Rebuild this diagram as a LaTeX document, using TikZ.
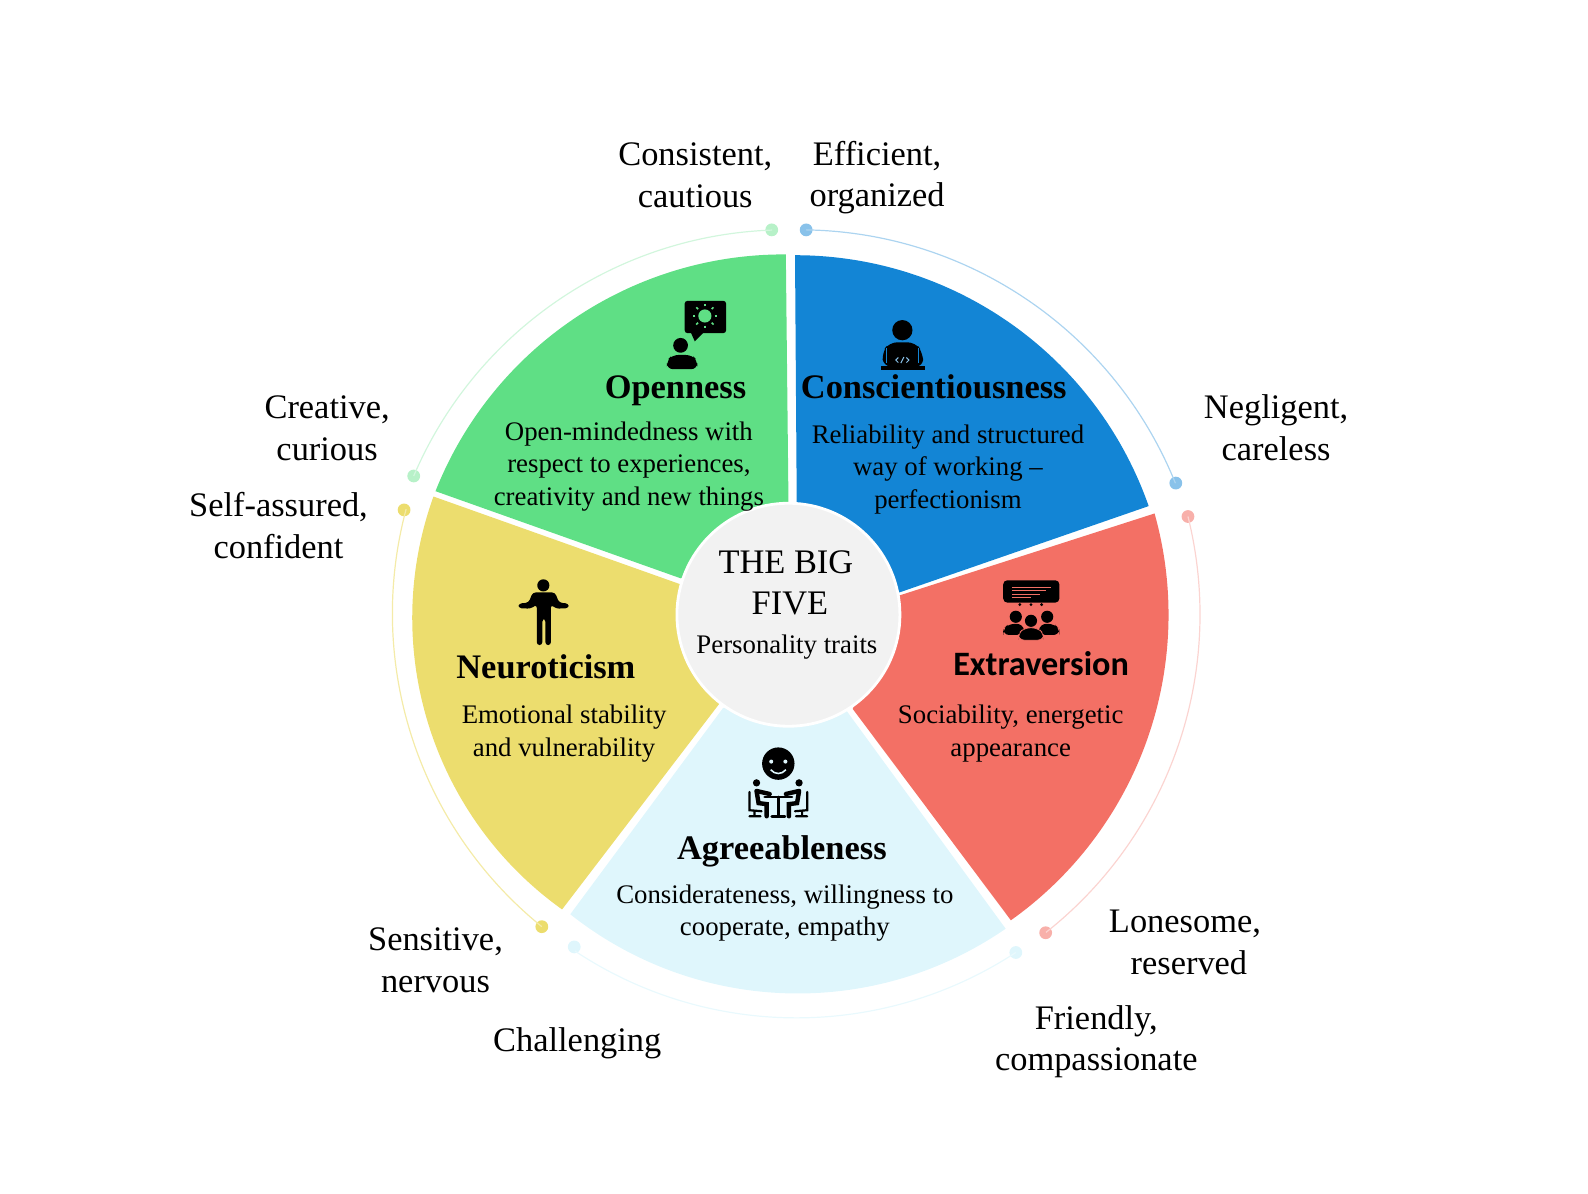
\documentclass[tikz,border=0pt]{standalone}
\usepackage{fontspec}
\setmainfont{Liberation Serif}
\newfontfamily\calfont{Carlito}
\definecolor{cgreen}{HTML}{5FDF85}
\definecolor{cblue}{HTML}{1385D5}
\definecolor{cred}{HTML}{F37065}
\definecolor{clight}{HTML}{DFF6FC}
\definecolor{cyellow}{HTML}{ECDD6E}
\definecolor{ccentre}{HTML}{F2F2F2}
\tikzset{
  lab/.style={align=center,font=\fontsize{17.2}{20.8}\selectfont,inner sep=0pt},
  bodytxt/.style={align=center,font=\fontsize{13.4}{16.2}\selectfont,inner sep=0pt},
  ttl/.style={font=\fontsize{17.2}{20}\selectfont\bfseries,inner sep=0pt},
  wedge/.style={draw=none},
  dot/.style={circle,minimum size=6.4pt,inner sep=0pt,fill=#1},
  guide/.style={line width=.6pt,draw=#1},
  ink/.style={fill=black,draw=none},
  stroke/.style={draw=black,line width=#1,line cap=round}
}
\begin{document}
\begin{tikzpicture}[x=0.5064pt,y=-0.5064pt]
\useasboundingbox (0,0) rectangle (1568,1178);
% wedges
\fill[cgreen,wedge] (430,485) arc[start angle=201.6,end angle=270.3,radius=370] -- (779,540) -- (672,571) -- cycle;
\fill[cblue,wedge] (785,252) arc[start angle=270,end angle=340.7,radius=370] -- (888,585) -- (787,540) -- cycle;
\fill[cred,wedge] (1140,507) arc[start angle=-15.7,end angle=54.6,radius=370] -- (842,700) -- (888,588) -- cycle;
\fill[clight,wedge] (993,917) arc[start angle=55.4,end angle=128.4,radius=361.6] -- (714,699) -- (836,702) -- cycle;
\fill[cyellow,wedge] (555,898) arc[start angle=125.6,end angle=199.8,radius=354] -- (672,577) -- (714,690) -- cycle;
% guide arcs with dots
\node[dot=cgreen!45!white] (dga) at (408.5,470) {};
\node[dot=cgreen!45!white] (dgb) at (762,227) {};
\node[dot=cblue!50!white] (dba) at (796,227) {};
\node[dot=cblue!50!white] (dbb) at (1161,477) {};
\node[dot=cred!55!white] (dra) at (1173,510) {};
\node[dot=cred!55!white] (drb) at (1032.5,921) {};
\node[dot=clight] (dla) at (1003,940.5) {};
\node[dot=clight] (dlb) at (567,935) {};
\node[dot=cyellow] (dya) at (535,915) {};
\node[dot=cyellow] (dyb) at (399,503.5) {};
\draw[guide=cgreen!28!white] (dga.center) arc[start angle=203.1,end angle=268,radius=400];
\draw[guide=cblue!35!white] (dba.center) arc[start angle=270.9,end angle=338,radius=400];
\draw[guide=cred!30!white] (dra.center) arc[start angle=-14,end angle=51.7,radius=400];
\draw[guide=clight!70!white] (dla.center) arc[start angle=56.8,end angle=123.6,radius=395.5];
\draw[guide=cyellow!60!white] (dya.center) arc[start angle=129,end angle=195,radius=398];
% centre
\node[circle,fill=ccentre,draw=white,line width=1.4pt,minimum size=111.5pt,inner sep=0pt] (hub) at (778.5,607) {};
\node[font=\fontsize{17.2}{20.8}\selectfont,inner sep=0pt] (t1) at (776,555) {THE BIG};
\node[font=\fontsize{17.2}{20.8}\selectfont,inner sep=0pt] (t2) at (780,596) {FIVE};
\node[bodytxt] (t3) at (777,639) {Personality traits};
% headings
\node[ttl] (nO) at (667,386) {Openness};
\node[ttl] (nC) at (922,382) {Conscientiousness};
\node[ttl] (nN) at (539,658) {Neuroticism};
\node[inner sep=0pt,font=\calfont\fontsize{17.1}{20}\selectfont\bfseries] (nE) at (1028,655) {Extraversion};
\node[ttl] (nA) at (772,841) {Agreeableness};
% bodies
\node[bodytxt] (bO) at (621,460.5) {Open-mindedness with\\respect to experiences,\\creativity and new things};
\node[bodytxt] (bC) at (936,463.5) {Reliability and structured\\way of working --\\perfectionism};
\node[bodytxt] (bN) at (557,724.5) {Emotional stability\\and vulnerability};
\node[bodytxt] (bE) at (998,724.5) {Sociability, energetic\\appearance};
\node[bodytxt] (bA) at (775,901.5) {Considerateness, willingness to\\cooperate, empathy};
% outer labels
\node[lab] (l1) at (686.5,173) {Consistent,\\cautious};
\node[lab] (l2) at (866,175.5) {Efficient,\\organized};
\node[lab] (l3) at (323,423) {Creative,\\curious};
\node[lab] (l4) at (275,519) {Self-assured,\\confident};
\node[lab] (l5) at (1260,422.5) {Negligent,\\careless};
\node[lab] (l6) at (430,948) {Sensitive,\\nervous};
\node[lab] (l7) at (570,1030) {Challenging};
\node[lab] (l8) at (1170,930.5) {Lonesome,\\\hspace*{4pt}reserved};
\node[lab] (l9) at (1082.5,1028.5) {Friendly,\\compassionate};
% icon: openness
\fill[ink,rounded corners=1.5pt] (676,297) rectangle (717,329);
\fill[ink] (682,328) -- (686,337) -- (695,328) -- cycle;
\fill[cgreen] (696,312) circle (6.5);
\foreach \a in {0,45,...,315}{\draw[cgreen,line width=.8pt] (696,312)++(\a:9.5) -- ++(\a:2.5);}
\fill[ink] (672,341) circle (7.3);
\fill[ink,rounded corners=3pt] (658.5,364.5) -- (658.5,356) -- (664,350.5) -- (683,350.5) -- (688.5,356) -- (688.5,364.5) -- cycle;
% icon: conscientiousness
\fill[ink] (891,326) circle (10);
\fill[ink,rounded corners=4pt] (872,362) -- (871,348) -- (878,338) -- (904,338) -- (911,348) -- (912,362) -- cycle;
\fill[ink] (870,361) rectangle (913,365.5);
\draw[cblue,line width=.35pt] (875,344) -- (875,358) (907,344) -- (907,358);
\draw[cblue!50!white,line width=.5pt] (887,353) -- (884.5,355.5) -- (887,358) (895,353) -- (897.5,355.5) -- (895,358) (892.5,352.5) -- (889.5,358.5);
% icon: neuroticism
\fill[ink] (536.5,578) circle (6);
\fill[ink,rounded corners=1.5pt] (526,585) -- (548,585) -- (552,595) -- (561.5,596) -- (561.5,600.5) -- (549,601) -- (544,597) -- (544,637) -- (538.5,637) -- (538.5,611) -- (535.5,611) -- (535.5,637) -- (530,637) -- (530,597) -- (524,601) -- (512,600.5) -- (512,596) -- (522,595) -- cycle;
% icon: extraversion
\fill[ink,rounded corners=2pt] (990.6,573) rectangle (1046,595);
\draw[cred,line width=.55pt] (999,580) -- (1038,580) (999,583.3) -- (1033,583.3) (999,586.6) -- (1027,586.6) (999,590) -- (1018,590);
\fill[ink] (1007,597) circle (1.5) (1018,597) circle (1.5) (1028.5,597) circle (1.5);
\fill[ink] (1003,609) circle (6) (1034,609) circle (6) (1018,613) circle (6);
\fill[ink,rounded corners=3pt] (990.6,627) -- (990.6,621) -- (996,616) -- (1010,616) -- (1012,627) -- cycle;
\fill[ink,rounded corners=3pt] (1025,627) -- (1027,616) -- (1041,616) -- (1046,621) -- (1046,627) -- cycle;
\fill[ink,draw=cred,line width=.3pt,rounded corners=3pt] (1005.4,632) -- (1005.4,626) -- (1011,620) -- (1025,620) -- (1030.7,626) -- (1030.7,632) -- cycle;
% icon: agreeableness
\fill[ink] (768.5,754) circle (16);
\fill[clight] (761.5,752) circle (2) (775.5,752) circle (2);
\draw[clight,line width=.8pt] (761,760) .. controls (765,765) and (772,765) .. (776,760);
\fill[ink] (747,773) circle (3.6) (789,773) circle (3.6);
\draw[stroke=1.3pt] (755,787) -- (782,787) (768.5,787) -- (768.5,806) (762,806) -- (775,806);
\draw[stroke=2.2pt] (747,781) -- (749,793) -- (757,794) -- (757,806) (747,781) -- (760,784) (789,781) -- (787,793) -- (779,794) -- (779,806) (789,781) -- (776,784);
\draw[stroke=1.1pt] (740,782) -- (740,800) -- (752,801) (745,801) -- (745,806) (740,806) -- (751,806) (797,782) -- (797,800) -- (785,801) (792,801) -- (792,806) (786,806) -- (797,806);
\end{tikzpicture}
\end{document}
